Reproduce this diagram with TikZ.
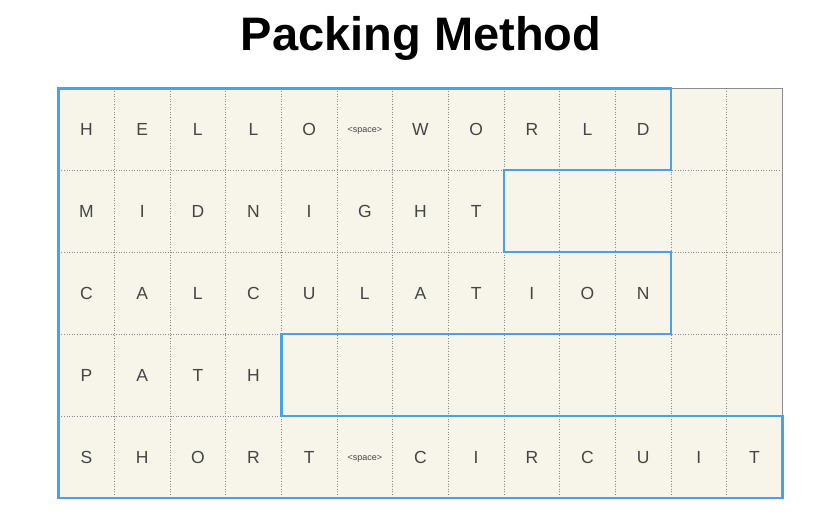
\documentclass[tikz,border=0pt]{standalone}
\usepackage{fontspec}
\setmainfont{Liberation Sans}
\definecolor{cellbg}{HTML}{F7F5EA}
\definecolor{gridgray}{HTML}{8C8C8C}
\definecolor{pathblue}{HTML}{4BA0EA}
\definecolor{lettergray}{HTML}{454545}
\newcommand\spcmark{\raisebox{3.2pt}[0pt][0pt]{\fontsize{9}{9}\selectfont\textless space\textgreater}}
\begin{document}
\begin{tikzpicture}[x=1pt,y=-1pt,
  letter/.style={text=lettergray,font=\fontsize{17.5}{17.5}\selectfont,inner sep=0pt,
    text height=12.6pt,text depth=0pt},
  titletext/.style={font=\fontsize{47}{47}\selectfont\bfseries,inner sep=0pt},
  gridline/.style={gridgray,line width=0.6pt,dotted},
  border/.style={gridgray,line width=0.8pt},
  packpath/.style={pathblue,line width=2.5pt,line join=miter}]
\useasboundingbox (0,0) rectangle (829,522);
\node[titletext,anchor=base] (title) at (421,50) {Packing Method};
\begin{scope}[shift={(58.7,88.3)},x=55.66pt,y=-81.94pt]
  \fill[cellbg] (0,0) rectangle (13,5);
  \foreach \c in {1,...,12} \draw[gridline] (\c,0) -- (\c,5);
  \foreach \r in {1,...,4} \draw[gridline] (0,\r) -- (13,\r);
  \draw[border] (0,0) rectangle (13,5);
  \foreach \t [count=\i] in {H,E,L,L,O,\spcmark,W,O,R,L,D}
    \node[letter] (r1-\i) at (\i-0.5,0.5) {\t};
  \foreach \t [count=\i] in {M,I,D,N,I,G,H,T}
    \node[letter] (r2-\i) at (\i-0.5,1.5) {\t};
  \foreach \t [count=\i] in {C,A,L,C,U,L,A,T,I,O,N}
    \node[letter] (r3-\i) at (\i-0.5,2.5) {\t};
  \foreach \t [count=\i] in {P,A,T,H}
    \node[letter] (r4-\i) at (\i-0.5,3.5) {\t};
  \foreach \t [count=\i] in {S,H,O,R,T,\spcmark,C,I,R,C,U,I,T}
    \node[letter] (r5-\i) at (\i-0.5,4.5) {\t};
  \draw[packpath] (0,0) -- (11,0) -- (11,1) -- (8,1) -- (8,2) -- (11,2) -- (11,3)
    -- (4,3) -- (4,4) -- (13,4) -- (13,5) -- (0,5) -- cycle;
\end{scope}
\end{tikzpicture}
\end{document}
